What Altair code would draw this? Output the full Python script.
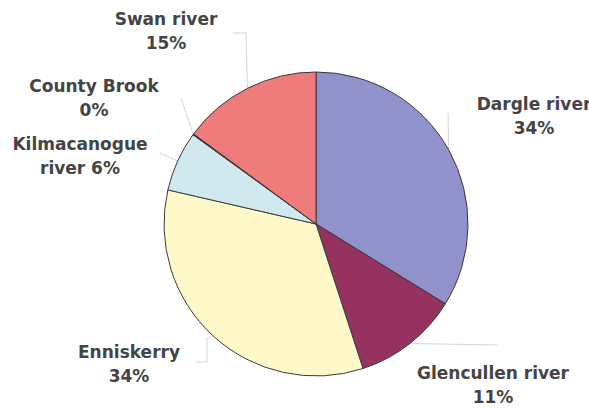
import math

import altair as alt
import pandas as pd

# Share of samples per catchment, clockwise from 12 o'clock
rivers = ["Dargle river", "Glencullen river", "Enniskerry",
          "Kilmacanogue river", "County Brook", "Swan river"]
shares = [33.8, 11.2, 33.6, 6.4, 0.1, 14.9]
slice_colors = ["#9191cb", "#96325f", "#fff9c9", "#cfe9ef", "#660066", "#f07b7b"]

# Label text: name line(s) followed by the rounded percentage
label_lines = {
    "Dargle river": ["Dargle river", "{p}%"],
    "Glencullen river": ["Glencullen river", "{p}%"],
    "Enniskerry": ["Enniskerry", "{p}%"],
    "Kilmacanogue river": ["Kilmacanogue", "river {p}%"],
    "County Brook": ["County Brook", "{p}%"],
    "Swan river": ["Swan river", "{p}%"],
}

# Layout (pixels)
W, H = 589, 411
CX, CY, R = 316, 224, 152
LINE_GAP = 24
label_anchor = {
    "Dargle river": (534, 105),
    "Glencullen river": (493, 374),
    "Enniskerry": (129, 353),
    "Kilmacanogue river": (80, 145),
    "County Brook": (94, 87),
    "Swan river": (166, 20),
}
leader_elbows = {
    "Dargle river": [(448, 113)],
    "Glencullen river": [(498, 345)],
    "Enniskerry": [(207, 338), (207, 362), (196, 362)],
    "Kilmacanogue river": [(160, 153)],
    "County Brook": [(181, 98)],
    "Swan river": [(246, 33), (233, 33)],
}

total = sum(shares)
pie_df = pd.DataFrame({"river": rivers, "share": shares, "idx": range(len(rivers))})

# Text rows, one per printed line
text_rows = []
for name, s in zip(rivers, shares):
    pct = round(s / total * 100)
    x0, y0 = label_anchor[name]
    for i, line in enumerate(label_lines[name]):
        text_rows.append({"label": line.format(p=pct), "lx": x0, "ly": y0 + i * LINE_GAP})
text_df = pd.DataFrame(text_rows)

# Leader lines start on the rim at each slice's mid angle
lead_rows = []
cum = 0.0
for name, s in zip(rivers, shares):
    mid = (cum + s / 2) / total * 2 * math.pi
    cum += s
    pts = [(CX + R * math.sin(mid), CY - R * math.cos(mid))] + leader_elbows[name]
    for k, (px, py) in enumerate(pts):
        lead_rows.append({"river": name, "k": k, "px": px, "py": py})
lead_df = pd.DataFrame(lead_rows)

pie = alt.Chart(pie_df).mark_arc(
    outerRadius=R, stroke="#3a3a3a", strokeWidth=1, x=CX, y=CY
).encode(
    theta=alt.Theta("share:Q", stack=True),
    color=alt.Color("river:N", scale=alt.Scale(domain=rivers, range=slice_colors), legend=None),
    order=alt.Order("idx:Q"),
)

leaders = alt.Chart(lead_df).mark_line(color="#d6d6d6", strokeWidth=1).encode(
    x=alt.X("px:Q", scale=None, axis=None),
    y=alt.Y("py:Q", scale=None, axis=None),
    detail="river:N",
    order="k:Q",
)

labels = alt.Chart(text_df).mark_text(
    font="DejaVu Sans", fontSize=17, fontWeight="bold", color="#444444",
    align="center", baseline="middle"
).encode(
    x=alt.X("lx:Q", scale=None, axis=None),
    y=alt.Y("ly:Q", scale=None, axis=None),
    text="label:N",
)

chart = alt.layer(leaders, pie, labels).properties(
    width=W, height=H, padding=0, autosize="none", background="white"
).configure_view(stroke=None)

chart.save("out.html", embed_options={"renderer": "svg", "actions": False})
